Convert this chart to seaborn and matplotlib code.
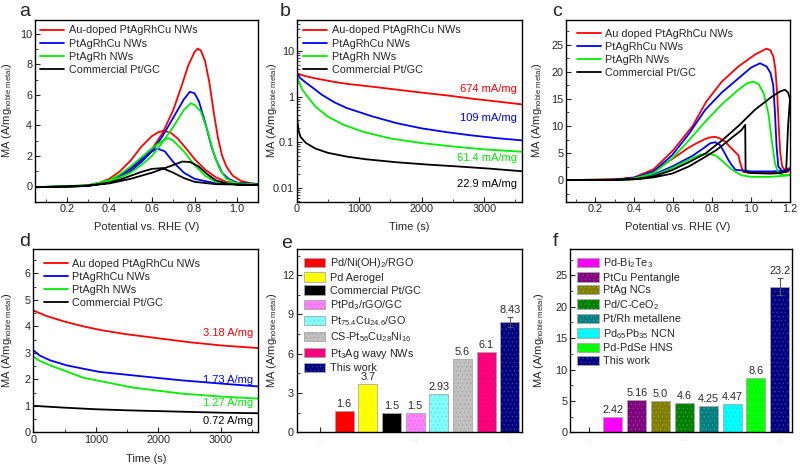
import numpy as np
import pandas as pd
import matplotlib
matplotlib.use("Agg")
import matplotlib.pyplot as plt
from matplotlib.ticker import AutoMinorLocator, FixedLocator, FixedFormatter, LogLocator, NullFormatter
from matplotlib.colors import to_rgb
import seaborn as sns

sns.set_style("ticks")
plt.rcParams['font.family'] = ['Liberation Sans', 'DejaVu Sans']
plt.rcParams['mathtext.fontset'] = 'custom'
plt.rcParams['mathtext.rm'] = 'Liberation Sans'
plt.rcParams['mathtext.it'] = 'Liberation Sans:italic'
plt.rcParams['hatch.linewidth'] = 0.4

# ---------------- data ----------------
series_names_a = ["Au-doped PtAgRhCu NWs", "PtAgRhCu NWs", "PtAgRh NWs", "Commercial Pt/GC"]
series_names_c = ["Au doped PtAgRhCu NWs", "PtAgRhCu NWs", "PtAgRh NWs", "Commercial Pt/GC"]
line_colors = ["#ff0000", "#0000ff", "#00ee00", "#000000"]

# panel a : forward scan then backward scan
a_red_v = [0.05, 0.2, 0.3, 0.35, 0.4, 0.45, 0.5, 0.55, 0.6, 0.65, 0.7, 0.74, 0.77, 0.8, 0.815, 0.83, 0.85, 0.87, 0.89, 0.91, 0.93, 0.95, 0.98, 1.02, 1.06, 1.1,
           1.1, 1.0, 0.95, 0.9, 0.85, 0.8, 0.76, 0.72, 0.69, 0.657, 0.63, 0.6, 0.55, 0.5, 0.45, 0.4, 0.35, 0.3, 0.2, 0.05]
a_red_ma = [-0.05, -0.02, 0.05, 0.15, 0.35, 0.7, 1.15, 1.7, 2.45, 3.5, 5.0, 6.6, 7.9, 8.8, 9.03, 8.9, 8.2, 6.8, 4.9, 3.2, 2.0, 1.3, 0.7, 0.35, 0.22, 0.15,
            0.15, 0.18, 0.3, 0.6, 1.1, 1.8, 2.5, 3.15, 3.5, 3.65, 3.55, 3.3, 2.6, 1.7, 1.0, 0.5, 0.22, 0.08, 0.0, -0.05]
a_blue_v = [0.05, 0.2, 0.3, 0.4, 0.45, 0.5, 0.55, 0.6, 0.65, 0.7, 0.75, 0.778, 0.8, 0.82, 0.85, 0.88, 0.9, 0.93, 0.96, 1.0, 1.1,
            1.1, 0.9, 0.8, 0.75, 0.7, 0.66, 0.626, 0.6, 0.55, 0.5, 0.45, 0.4, 0.3, 0.05]
a_blue_ma = [-0.05, -0.02, 0.03, 0.3, 0.6, 1.0, 1.6, 2.3, 3.3, 4.5, 5.7, 6.2, 6.1, 5.6, 4.2, 2.6, 1.8, 0.9, 0.5, 0.25, 0.15,
             0.15, 0.2, 0.5, 0.9, 1.6, 2.3, 2.48, 2.3, 1.8, 1.2, 0.7, 0.35, 0.06, -0.05]
a_green_v = [0.05, 0.2, 0.3, 0.4, 0.5, 0.55, 0.6, 0.65, 0.7, 0.75, 0.782, 0.8, 0.83, 0.86, 0.89, 0.92, 0.95, 1.0, 1.1,
             1.1, 0.9, 0.85, 0.8, 0.75, 0.7, 0.677, 0.65, 0.6, 0.55, 0.5, 0.45, 0.4, 0.3, 0.05]
a_green_ma = [-0.05, -0.02, 0.03, 0.3, 0.9, 1.4, 2.0, 2.9, 3.9, 5.0, 5.44, 5.35, 4.9, 3.7, 2.2, 1.1, 0.5, 0.2, 0.1,
              0.1, 0.3, 0.7, 1.4, 2.3, 3.0, 3.16, 3.0, 2.5, 1.9, 1.3, 0.8, 0.4, 0.08, -0.05]
a_black_v = [0.05, 0.2, 0.3, 0.4, 0.5, 0.6, 0.65, 0.7, 0.743, 0.78, 0.82, 0.86, 0.9, 0.95, 1.0, 1.1,
             1.1, 0.9, 0.8, 0.75, 0.7, 0.649, 0.6, 0.55, 0.5, 0.45, 0.4, 0.3, 0.05]
a_black_ma = [-0.05, -0.02, 0.05, 0.2, 0.5, 0.9, 1.15, 1.4, 1.63, 1.6, 1.3, 0.8, 0.4, 0.2, 0.12, 0.08,
              0.1, 0.15, 0.3, 0.55, 0.9, 1.2, 1.15, 0.95, 0.7, 0.45, 0.25, 0.05, -0.05]

# panel b : chronoamperometry (log)
b_red_t = [0, 100, 300, 600, 800, 1200, 1600, 2000, 2400, 2800, 3200, 3600]
b_red_ma = [3.3, 2.9, 2.5, 2.1, 1.9, 1.65, 1.42, 1.22, 1.06, 0.9, 0.78, 0.674]
b_blue_t = [0, 50, 150, 260, 400, 600, 800, 1200, 1600, 2000, 2400, 2800, 3200, 3600]
b_blue_ma = [3.2, 2.6, 2.0, 1.55, 1.1, 0.75, 0.56, 0.37, 0.26, 0.2, 0.165, 0.14, 0.122, 0.109]
b_green_t = [0, 30, 80, 160, 300, 500, 750, 1050, 1500, 2000, 2500, 3000, 3600]
b_green_ma = [3.0, 2.2, 1.5, 1.05, 0.6, 0.36, 0.24, 0.17, 0.12, 0.095, 0.08, 0.069, 0.0614]
b_black_t = [0, 10, 30, 60, 150, 300, 500, 800, 1100, 1600, 2100, 2600, 3100, 3600]
b_black_ma = [0.6, 0.3, 0.18, 0.13, 0.095, 0.072, 0.058, 0.048, 0.042, 0.036, 0.032, 0.029, 0.026, 0.0229]
b_notes = ["674 mA/mg", "109 mA/mg", "61.4 mA/mg", "22.9 mA/mg"]

# panel c : CV with forward + backward scans
c_red_v = [0.05, 0.3, 0.4, 0.5, 0.6, 0.7, 0.77, 0.85, 0.935, 1.02, 1.08, 1.1, 1.115, 1.125, 1.135, 1.142, 1.15, 1.16, 1.175, 1.2,
           1.19, 1.1, 1.0, 0.96, 0.95, 0.944, 0.935, 0.918, 0.89, 0.867, 0.84, 0.816, 0.79, 0.765, 0.72, 0.68, 0.6, 0.5, 0.4, 0.3, 0.05]
c_red_ma = [0.0, 0.1, 0.5, 2.0, 5.5, 10.0, 14.5, 18.2, 21.0, 23.2, 24.3, 24.0, 22.8, 20.5, 15.5, 10.0, 5.0, 2.5, 1.8, 2.3,
            1.5, 1.3, 1.3, 1.5, 2.5, 3.2, 4.6, 5.2, 6.2, 7.1, 7.7, 8.0, 7.9, 7.6, 6.8, 6.0, 4.0, 1.6, 0.4, 0.05, 0.0]
c_blue_v = [0.05, 0.3, 0.4, 0.5, 0.595, 0.68, 0.765, 0.85, 0.935, 1.0, 1.046, 1.08, 1.1, 1.114, 1.123, 1.131, 1.14, 1.16, 1.2,
            1.18, 1.1, 1.0, 0.95, 0.92, 0.9, 0.884, 0.86, 0.84, 0.816, 0.79, 0.76, 0.7, 0.6, 0.5, 0.4, 0.3, 0.05]
c_blue_ma = [0.0, 0.05, 0.4, 1.6, 4.6, 8.5, 13.0, 16.2, 18.8, 20.8, 21.6, 21.0, 19.8, 17.5, 12.3, 6.2, 2.5, 1.7, 2.0,
             1.7, 1.6, 1.6, 1.8, 1.9, 2.8, 3.7, 5.3, 6.5, 7.0, 6.8, 6.0, 4.5, 2.6, 1.0, 0.25, 0.03, 0.0]
c_green_v = [0.05, 0.3, 0.4, 0.5, 0.595, 0.68, 0.765, 0.85, 0.935, 0.98, 1.012, 1.04, 1.065, 1.089, 1.106, 1.123, 1.14, 1.17, 1.2,
             1.1, 1.0, 0.95, 0.935, 0.9, 0.884, 0.85, 0.82, 0.782, 0.74, 0.7, 0.6, 0.5, 0.4, 0.3, 0.05]
c_green_ma = [0.0, 0.03, 0.3, 1.3, 4.0, 7.3, 10.8, 14.0, 16.7, 17.9, 18.2, 17.7, 16.0, 12.3, 7.4, 3.1, 1.3, 0.9, 0.9,
              0.6, 0.6, 0.9, 1.2, 2.0, 2.5, 3.6, 4.5, 4.9, 4.7, 4.1, 2.3, 0.8, 0.15, 0.02, 0.0]
c_black_v = [0.05, 0.4, 0.5, 0.595, 0.68, 0.765, 0.85, 0.935, 1.02, 1.106, 1.15, 1.174, 1.19, 1.2,
             1.19, 1.183, 1.18, 1.15, 1.1, 1.0, 0.972, 0.97, 0.95, 0.9, 0.867, 0.82, 0.765, 0.68, 0.595, 0.5, 0.425, 0.3, 0.05]
c_black_ma = [0.0, 0.15, 0.7, 1.85, 3.3, 4.9, 7.3, 10.0, 13.0, 15.4, 16.4, 16.7, 16.2, 15.0,
              10.0, 4.0, 1.6, 1.3, 1.2, 1.3, 1.5, 10.2, 9.2, 7.8, 6.8, 5.5, 4.3, 2.5, 1.2, 0.5, 0.2, 0.02, 0.0]

# panel d : chronoamperometry (linear)
d_red_t = [0, 200, 500, 800, 1100, 1500, 2000, 2500, 3000, 3600]
d_red_ma = [4.6, 4.4, 4.18, 4.0, 3.85, 3.7, 3.55, 3.4, 3.28, 3.18]
d_blue_t = [0, 100, 265, 530, 800, 1060, 1590, 2000, 2380, 3000, 3600]
d_blue_ma = [3.1, 2.9, 2.72, 2.53, 2.4, 2.28, 2.15, 2.05, 1.96, 1.84, 1.73]
d_green_t = [0, 100, 300, 530, 800, 1100, 1590, 2000, 2380, 3000, 3600]
d_green_ma = [2.85, 2.7, 2.5, 2.3, 2.06, 1.92, 1.69, 1.57, 1.46, 1.35, 1.27]
d_black_t = [0, 500, 1000, 1500, 2000, 2500, 3000, 3600]
d_black_ma = [1.0, 0.93, 0.87, 0.83, 0.8, 0.77, 0.74, 0.72]
d_notes = ["3.18 A/mg", "1.73 A/mg", "1.27 A/mg", "0.72 A/mg"]

# panel e : bar comparison
e_labels = [r"Pd/Ni(OH)$_2$/RGO", "Pd Aerogel", "Commercial Pt/GC", r"PtPd$_3$/rGO/GC",
            r"Pt$_{75.4}$Cu$_{24.6}$/GO", r"CS-Pt$_{56}$Cu$_{28}$Ni$_{16}$", r"Pt$_3$Ag wavy NWs", "This work"]
e_pos = [1, 2, 3, 4, 5, 6, 7, 8]
e_vals = [1.6, 3.7, 1.5, 1.5, 2.93, 5.6, 6.1, 8.43]
e_text = ["1.6", "3.7", "1.5", "1.5", "2.93", "5.6", "6.1", "8.43"]
e_err = [0, 0, 0, 0, 0, 0, 0, 0.4]
e_colors = ["#ff0000", "#ffff00", "#000000", "#ff80ff", "#80ffff", "#c0c0c0", "#ff0080", "#000080"]

# panel f : bar comparison
f_labels = [r"Pd-Bi$_2$Te$_3$", "PtCu Pentangle", "PtAg NCs", r"Pd/C-CeO$_2$",
            "Pt/Rh metallene", r"Pd$_{65}$Pb$_{35}$ NCN", "Pd-PdSe HNS", "This work"]
f_pos = [1, 2, 3, 4, 5, 6, 7, 8]
f_vals = [2.42, 5.16, 5.0, 4.6, 4.25, 4.47, 8.6, 23.2]
f_text = ["2.42", "5.16", "5.0", "4.6", "4.25", "4.47", "8.6", "23.2"]
f_err = [0, 0, 0, 0, 0, 0, 0, 1.4]
f_colors = ["#ff00ff", "#800080", "#808000", "#008000", "#008080", "#00ffff", "#00ff00", "#000080"]

# ---------------- figure ----------------
fig = plt.figure(figsize=(8, 4.66), dpi=100)
W, H = 800.0, 466.0


def rect(l, t, r, b):
    return [l / W, 1 - b / H, (r - l) / W, (b - t) / H]


ax_a = fig.add_axes(rect(35, 20, 258.3, 201.7))
ax_b = fig.add_axes(rect(296.7, 20, 521.7, 201.7))
ax_c = fig.add_axes(rect(566, 20, 790, 201.7))
ax_d = fig.add_axes(rect(33.3, 249, 258.3, 432.3))
ax_e = fig.add_axes(rect(296.7, 249, 521.7, 432.3))
ax_f = fig.add_axes(rect(570, 249, 791.7, 432.3))

TICK_FS = 7.8
LAB_FS = 8
LEG_FS = 7.8
ylab = r"MA (A/mg$_{\mathrm{noble\ metal}}$)"


def style(ax, minor_x=True, minor_y=True):
    for s in ax.spines.values():
        s.set_linewidth(1.0)
        s.set_color("black")
    ax.tick_params(axis="both", which="major", direction="in", length=3.5, width=0.8,
                   labelsize=TICK_FS, pad=2, top=False, right=False)
    ax.tick_params(axis="both", which="minor", direction="in", length=2, width=0.6,
                   top=False, right=False)
    if minor_x:
        ax.xaxis.set_minor_locator(AutoMinorLocator(2))
    if minor_y:
        ax.yaxis.set_minor_locator(AutoMinorLocator(2))


def lines(ax, xs, ys, names, anchor=(0.0, 1.0)):
    for x, y, n, c in zip(xs, ys, names, line_colors):
        sns.lineplot(x=x, y=y, sort=False, estimator=None, color=c, lw=1.3, label=n, ax=ax)
    ax.legend(loc="upper left", bbox_to_anchor=anchor, frameon=False, fontsize=LEG_FS,
              handlelength=2.2, handletextpad=0.4, labelspacing=0.29, borderaxespad=0.3,
              borderpad=0.2)


# a
lines(ax_a, [a_red_v, a_blue_v, a_green_v, a_black_v], [a_red_ma, a_blue_ma, a_green_ma, a_black_ma], series_names_a)
ax_a.set_xlim(0.05, 1.1)
ax_a.set_ylim(-1, 10.9)
ax_a.set_xticks([0.2, 0.4, 0.6, 0.8, 1.0])
ax_a.set_yticks([0, 2, 4, 6, 8, 10])
style(ax_a)
ax_a.set_xlabel("Potential vs. RHE (V)", fontsize=LAB_FS)

# b
ax_b.set_yscale("log")
lines(ax_b, [b_red_t, b_blue_t, b_green_t, b_black_t], [b_red_ma, b_blue_ma, b_green_ma, b_black_ma], series_names_a,
      anchor=(0.006, 1.0))
ax_b.set_xlim(0, 3600)
ax_b.set_ylim(0.0049, 48)
ax_b.set_xticks([0, 1000, 2000, 3000])
ax_b.yaxis.set_major_locator(FixedLocator([0.01, 0.1, 1, 10]))
ax_b.yaxis.set_major_formatter(FixedFormatter(["0.01", "0.1", "1", "10"]))
style(ax_b, minor_y=False)
ax_b.yaxis.set_minor_locator(LogLocator(base=10, subs=np.arange(2, 10) * 1.0))
ax_b.yaxis.set_minor_formatter(NullFormatter())
ax_b.set_xlabel("Time (s)", fontsize=LAB_FS)
for txt, yv, c in zip(b_notes, [1.5, 0.33, 0.045, 0.0122], line_colors):
    ax_b.text(3520, yv, txt, color=c, ha="right", va="center", fontsize=8)

# c
lines(ax_c, [c_red_v, c_blue_v, c_green_v, c_black_v], [c_red_ma, c_blue_ma, c_green_ma, c_black_ma], series_names_c,
      anchor=(0.025, 0.982))
ax_c.set_xlim(0.05, 1.2)
ax_c.set_ylim(-4, 29.6)
ax_c.set_xticks([0.2, 0.4, 0.6, 0.8, 1.0, 1.2])
ax_c.set_yticks([0, 5, 10, 15, 20, 25])
style(ax_c)
ax_c.set_xlabel("Potential vs. RHE (V)", fontsize=LAB_FS)

# d
lines(ax_d, [d_red_t, d_blue_t, d_green_t, d_black_t], [d_red_ma, d_blue_ma, d_green_ma, d_black_ma], series_names_c,
      anchor=(0.022, 0.977))
ax_d.set_xlim(0, 3600)
ax_d.set_ylim(0, 6.92)
ax_d.set_xticks([0, 1000, 2000, 3000])
ax_d.set_yticks([0, 1, 2, 3, 4, 5, 6])
style(ax_d)
ax_d.set_xlabel("Time (s)", fontsize=LAB_FS)
for txt, yv, c in zip(d_notes, [3.74, 1.97, 1.09, 0.44], line_colors):
    ax_d.text(3520, yv, txt, color=c, ha="right", va="center", fontsize=8)


def shade(c, f):
    r, g, b = to_rgb(c)
    if f < 0:  # darken
        return (r * (1 + f), g * (1 + f), b * (1 + f))
    return (r + (1 - r) * f, g + (1 - g) * f, b + (1 - b) * f)


# bars
def bars(ax, pos, vals, labels, colors, texts, errs, hatched):
    df = pd.DataFrame({"pos": pos, "val": vals, "lab": labels})
    sns.barplot(data=df, x="pos", y="val", hue="lab", hue_order=labels, palette=colors,
                native_scale=True, dodge=False, saturation=1, width=0.8, legend=False,
                edgecolor="#a8a8a8", linewidth=0.6, ax=ax)
    handles = []
    for cont, h, col in zip(ax.containers, hatched, colors):
        for p in cont.patches:
            if h:
                p.set_hatch("....")
                hc = shade(col, 0.25) if sum(to_rgb(col)) < 1.2 else shade(col, -0.15)
                try:
                    p.set_hatchcolor(hc)
                except AttributeError:
                    p._hatch_color = (*hc, 1.0)
            handles.append(p)
    for p_, v_, e_, t_ in zip(pos, vals, errs, texts):
        if e_ > 0:
            ax.errorbar(p_, v_, yerr=e_, color="#555555", capsize=2.5, lw=0.8, capthick=0.8)
        ax.annotate(t_, (p_, v_ + e_), xytext=(0, 1.5), textcoords="offset points",
                    ha="center", va="bottom", fontsize=7.8)
    ax.legend(handles, labels, loc="upper left", frameon=False, fontsize=LEG_FS,
              handlelength=2.0, handleheight=0.95, handletextpad=0.4, labelspacing=0.22,
              borderaxespad=0.35, borderpad=0.3)
    ax.set_xticks([0, 4, 8])
    ax.set_xticklabels(["0", "4", "8"], color="#edf3ed", fontsize=6)
    ax.set_xlabel("")
    ax.set_ylabel("")


bars(ax_e, e_pos, e_vals, e_labels, e_colors, e_text, e_err,
     [False, False, False, True, True, True, True, True])
ax_e.set_xlim(-1, 8.5)
ax_e.set_ylim(0, 14)
ax_e.set_yticks([0, 3, 6, 9, 12])
style(ax_e)

bars(ax_f, f_pos, f_vals, f_labels, f_colors, f_text, f_err,
     [True, True, True, True, True, True, True, True])
ax_f.set_xlim(-0.8, 8.5)
ax_f.set_ylim(0, 29.2)
ax_f.set_yticks([0, 5, 10, 15, 20, 25])
style(ax_f)

# y labels and panel letters
ylab_x = {ax_a: -0.096, ax_b: -0.08, ax_c: -0.099, ax_d: -0.087, ax_e: -0.08, ax_f: -0.11}
for ax, xx in ylab_x.items():
    ax.set_ylabel(ylab, fontsize=LAB_FS)
    ax.yaxis.set_label_coords(xx, 0.5)
for ax in (ax_a, ax_b, ax_c):
    ax.xaxis.set_label_coords(0.5, -0.112)
ax_d.xaxis.set_label_coords(0.5, -0.121)

for letter, (px, py) in zip("abcdef", [(25, 11.7), (285, 11.7), (556.7, 11.7), (25, 241.7), (286.7, 243.3), (555, 241.7)]):
    fig.text(px / W, 1 - py / H, letter, fontsize=14, ha="center", va="center")

fig.savefig("out.png", dpi=100)
